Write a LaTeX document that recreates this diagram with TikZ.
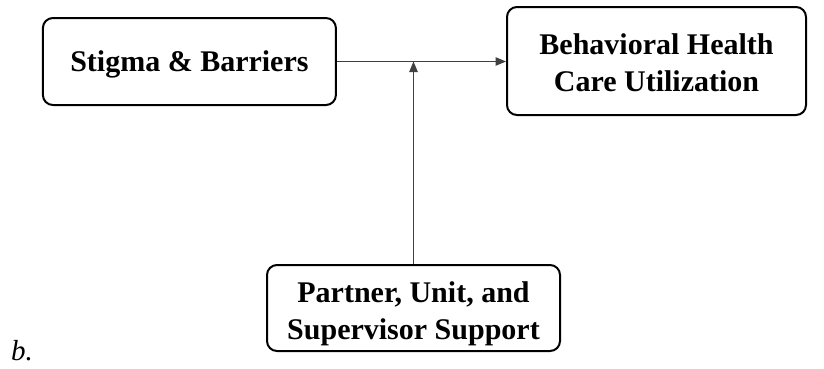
\documentclass[tikz,border=0pt]{standalone}
\usepackage{fontspec}
\setmainfont{Liberation Serif}
\usetikzlibrary{arrows.meta}
\begin{document}
\begin{tikzpicture}[x=1pt,y=-1pt,
  frame/.style={draw=black, line width=2pt, rounded corners=10pt, inner sep=0pt},
  caption/.style={align=center, inner sep=0pt,
    font=\bfseries\fontsize{30}{37}\selectfont},
  link/.style={draw=black!75, line width=1pt,
    -{Triangle[length=10.5pt,width=8.5pt]}}]
  \useasboundingbox (0,0) rectangle (824,368);
  \fill[white] (0,0) rectangle (824,368);

  % the three constructs: rounded frames with their bold captions
  \node[frame, minimum width=293pt, minimum height=87pt] (stigma) at (189.4,61.5) {};
  \node[frame, minimum width=299pt, minimum height=108pt] (care) at (656.5,61) {};
  \node[frame, minimum width=293pt, minimum height=86pt] (support) at (413.5,308) {};

  \node[caption] (stigmatext) at (189.4,64.5) {Stigma \& Barriers};
  \node[caption] (caretext) at (656.5,63) {Behavioral Health\\Care Utilization};
  \node[caption] (supporttext) at (413.5,313.5) {Partner, Unit, and\\Supervisor Support};

  % main path and the moderating support on it
  \coordinate (mid) at (support.north |- stigma.east);
  \draw[link] (stigma.east) -- (stigma.east -| care.west);
  \draw[link] (support.north) -- (mid);

  % panel label
  \node[anchor=base west, inner sep=0pt, font=\itshape\fontsize{29}{35}\selectfont] (panel)
    at (11,360) {b.};
\end{tikzpicture}
\end{document}
